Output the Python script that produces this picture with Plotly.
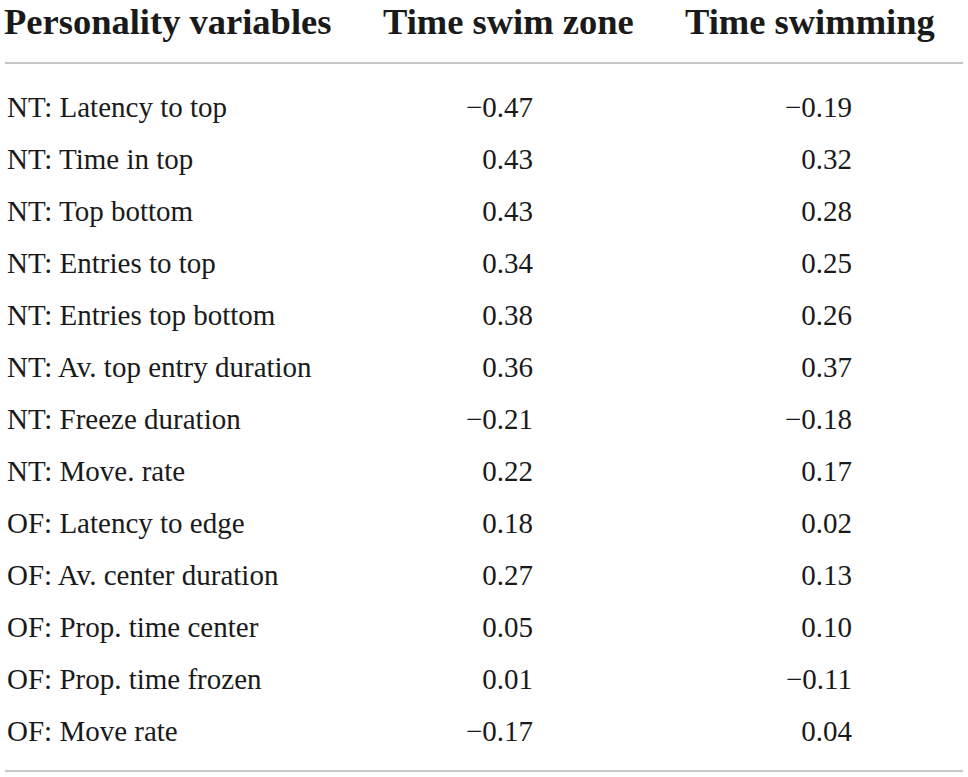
import plotly.graph_objects as go

# Dados da tabela
variaveis = [
    "NT: Latency to top", "NT: Time in top", "NT: Top bottom", "NT: Entries to top",
    "NT: Entries top bottom", "NT: Av. top entry duration", "NT: Freeze duration",
    "NT: Move. rate", "OF: Latency to edge", "OF: Av. center duration",
    "OF: Prop. time center", "OF: Prop. time frozen", "OF: Move rate",
]
swim_zone = [-0.47, 0.43, 0.43, 0.34, 0.38, 0.36, -0.21, 0.22, 0.18, 0.27, 0.05, 0.01, -0.17]
swimming = [-0.19, 0.32, 0.28, 0.25, 0.26, 0.37, -0.18, 0.17, 0.02, 0.13, 0.10, -0.11, 0.04]
cabecalhos = ["Personality variables", "Time swim zone", "Time swimming"]


def fmt(v):
    # sinal de menos tipográfico
    return ("\u2212" if v < 0 else "") + f"{abs(v):.2f}"


W, H = 968, 777
y0, passo = 110, 52
linhas_y = [y0 + i * passo for i in range(len(variaveis))]
fonte = "Liberation Serif"
cor = "#1a1a1a"

fig = go.Figure()

# Cabeçalho
fig.add_trace(go.Scatter(
    x=[4, 383, 685], y=[25, 25, 25], mode="text", text=cabecalhos,
    textposition="middle right", cliponaxis=False,
    textfont=dict(family=fonte, size=36.5, color=cor, weight="bold"),
    hoverinfo="skip"))

# Coluna de nomes
fig.add_trace(go.Scatter(
    x=[7] * len(variaveis), y=linhas_y, mode="text", text=variaveis,
    textposition="middle right", cliponaxis=False,
    textfont=dict(family=fonte, size=29, color=cor),
    hoverinfo="skip"))

# Colunas numéricas (alinhadas à direita)
fig.add_trace(go.Scatter(
    x=[533] * len(swim_zone), y=linhas_y, mode="text", text=[fmt(v) for v in swim_zone],
    textposition="middle left", cliponaxis=False,
    textfont=dict(family=fonte, size=29, color=cor),
    hoverinfo="skip"))
fig.add_trace(go.Scatter(
    x=[852] * len(swimming), y=linhas_y, mode="text", text=[fmt(v) for v in swimming],
    textposition="middle left", cliponaxis=False,
    textfont=dict(family=fonte, size=29, color=cor),
    hoverinfo="skip"))

# Linhas horizontais
for yy in [63, 771]:
    fig.add_shape(type="line", x0=5, x1=963, y0=yy, y1=yy,
                  line=dict(color="#b4b4b4", width=1.5))

fig.update_xaxes(range=[0, W], visible=False, fixedrange=True)
fig.update_yaxes(range=[H, 0], visible=False, fixedrange=True)
fig.update_layout(
    width=W, height=H,
    margin=dict(l=0, r=0, t=0, b=0),
    showlegend=False,
    plot_bgcolor="white",
    paper_bgcolor="white",
)

# remove a margem padrão do <body> para a figura ocupar a janela inteira
fig.write_html("out.html", config={"displayModeBar": False},
               post_script="document.body.style.margin='0';document.body.style.overflow='hidden';")
